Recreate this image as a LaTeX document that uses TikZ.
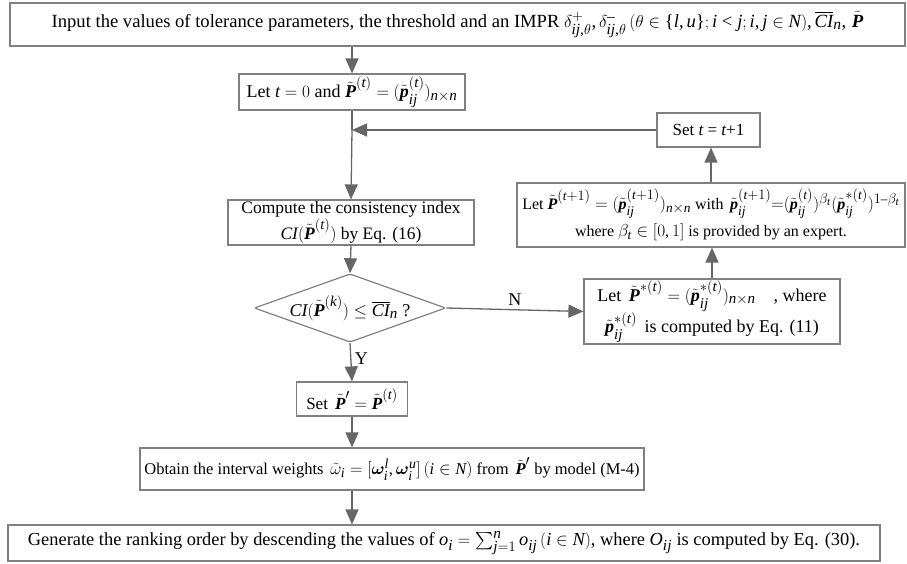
\documentclass[tikz,border=0pt]{standalone}
\usepackage{amsmath}
\usepackage{bm}
\usepackage{fontspec}
\setmainfont{Liberation Serif}
\usepackage[italic]{mathastext}
\usetikzlibrary{shapes.geometric, arrows.meta, positioning, calc}
\definecolor{boxline}{HTML}{808080}
\definecolor{flowline}{HTML}{666666}
\newcommand{\Pmat}{\tilde{\bm P}}
\newcommand{\pel}{\tilde{\bm p}}

\begin{document}
\begin{tikzpicture}[x=1pt, y=-1pt, >={Triangle[length=15pt, width=13pt]}, font=\fontsize{18}{22}\selectfont]
    \tikzstyle{pbox} = [rectangle, draw=boxline, fill=white, line width=1.2pt, inner sep=0pt, text centered, align=center]
    \tikzstyle{flow} = [draw, ->, line width=1.3pt, color=flowline]
    \useasboundingbox (0,0) rectangle (907,563);

    \node [pbox, minimum width=895pt, minimum height=43pt, font=\fontsize{18.6}{22}\selectfont] (input) at (457.5,24.5) {Input the values of tolerance parameters, the threshold and an IMPR $\delta^{+}_{ij,\theta},\delta^{-}_{ij,\theta}\,(\theta\in\{l,u\};i<j;i,j\in N),\overline{CI}_n,\,\Pmat$};
    \node [pbox, minimum width=226pt, minimum height=36pt] (init) at (352,92) {Let $t=0$ and $\Pmat^{(t)}=(\pel_{ij}^{(t)})_{n\times n}$};
    \node [pbox, minimum width=103pt, minimum height=34pt, font=\fontsize{17}{20}\selectfont] (next) at (708.5,130) {Set $t$ = $t$+1};
    \node [pbox, minimum width=388pt, minimum height=64pt, font=\fontsize{16}{27}\selectfont] (update) at (711,215) {Let $\Pmat^{(t+1)}=(\pel_{ij}^{(t+1)})_{n\times n}$ with\, $\pel_{ij}^{(t+1)}{=}(\pel_{ij}^{(t)})^{\beta_t}(\pel_{ij}^{*(t)})^{1-\beta_t}$\\where $\beta_t\in[0,1]$ is provided by an expert.};
    \node [pbox, minimum width=246pt, minimum height=45pt, font=\fontsize{17.5}{22}\selectfont] (compute) at (351,222.5) {Compute the consistency index\\$CI(\Pmat^{(t)})$ by Eq. (16)};
    \node [diamond, draw=boxline, fill=white, line width=1.2pt, inner sep=0pt, aspect=2.8, minimum width=186pt, minimum height=66pt, rounded corners=2pt] (check) at (350,308) {$CI(\Pmat^{(k)})\le\overline{CI}_n$ ?};
    \node [pbox, minimum width=256pt, minimum height=65pt, font=\fontsize{18}{27}\selectfont] (pstar) at (712,311.5) {Let\, $\Pmat^{*(t)}=(\pel_{ij}^{*(t)})_{n\times n}$\quad, where\\$\pel_{ij}^{*(t)}$\, is computed by Eq. (11)};
    \node [pbox, minimum width=111pt, minimum height=34pt, font=\fontsize{17}{20}\selectfont] (final) at (352,399) {Set\, $\Pmat'=\Pmat^{(t)}$};
    \node [pbox, minimum width=504pt, minimum height=42pt, font=\fontsize{16.5}{20}\selectfont] (weights) at (392,469) {Obtain the interval weights\, $\tilde\omega_i=[\bm\omega_i^l,\bm\omega_i^u]\,(i\in N)$ from\, $\Pmat'$ by model (M-4)};
    \node [pbox, minimum width=872pt, minimum height=36pt, font=\fontsize{18.4}{22}\selectfont] (rank) at (444,543) {Generate the ranking order by descending the values of $o_i=\sum_{j=1}^{n}o_{ij}\,(i\in N)$, where $O_{ij}$ is computed by Eq. (30).};

    \coordinate (merge) at (init.south |- next.west);
    \coordinate (wout) at (weights.south -| final.south);

    \path [flow] (input.south -| init.north) -- (init.north);
    \path [draw, line width=1.3pt, color=flowline] (init.south) -- (merge);
    \path [flow] (merge) -- (compute.north);
    \path [flow] (next.west) -- (merge);
    \path [flow] (compute.south) -- (check.north);
    \path [flow] (check.east) -- node [above, color=black] {N} (pstar.west);
    \path [flow] (pstar.north) -- (pstar.north |- update.south);
    \path [flow] (update.north) -- (update.north |- next.south);
    \path [flow] (check.south) -- node [right, pos=0.4, color=black] {Y} (final.north);
    \path [flow] (final.south) -- (final.south |- weights.north);
    \path [flow] (wout) -- (wout |- rank.north);
\end{tikzpicture}
\end{document}
